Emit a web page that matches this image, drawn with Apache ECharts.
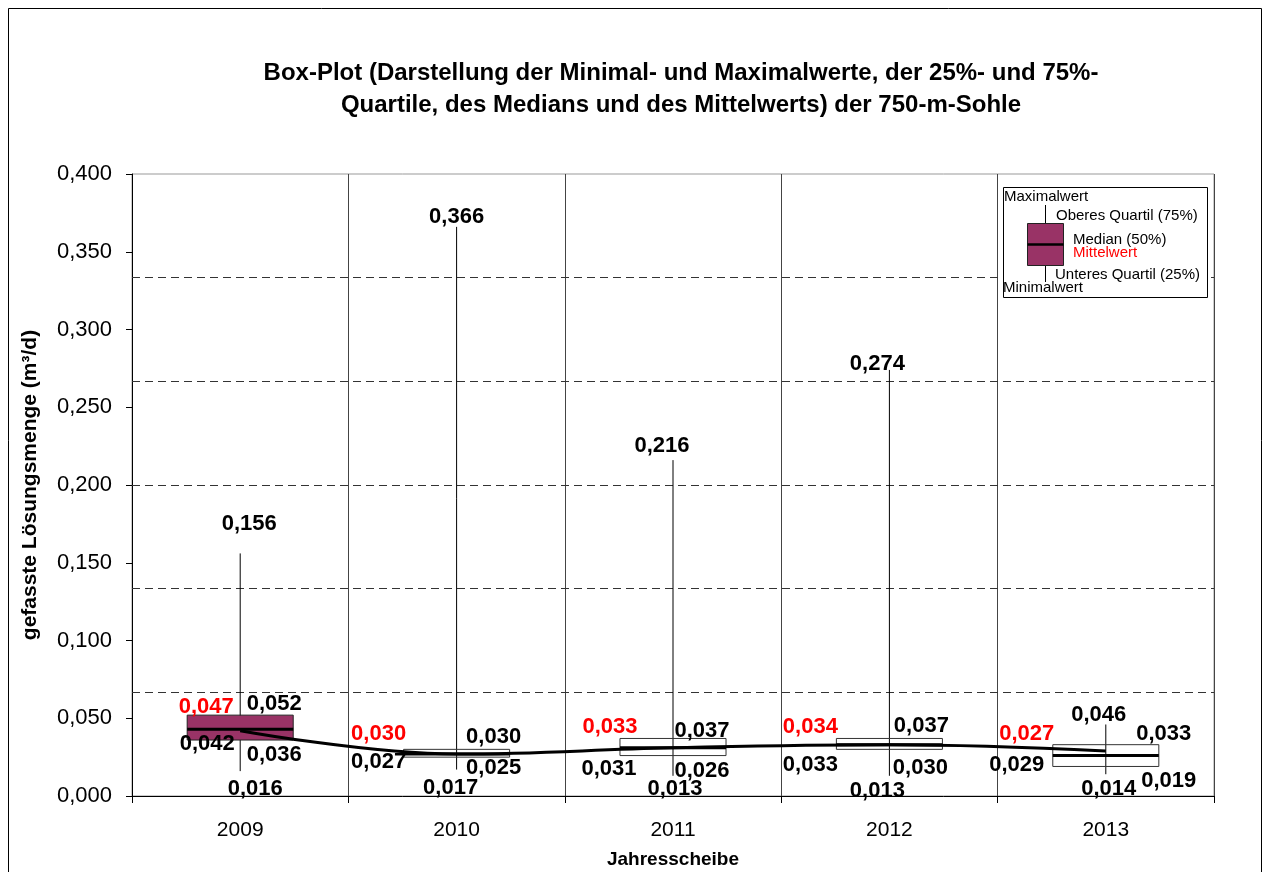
<!DOCTYPE html>
<html>
<head>
    <meta charset="utf-8">
    <title>Box-Plot 750-m-Sohle</title>
    <script src="https://cdn.jsdelivr.net/npm/echarts@6/dist/echarts.min.js"></script>
    <style>
        html, body { margin: 0; padding: 0; background: #fff; }
    </style>
</head>
<body>
<div id="main" style="width: 1270px;height:872px;"></div>
<script type="text/javascript">
    // Daten
    var years = ['2009', '2010', '2011', '2012', '2013'];
    var minVals = [0.016, 0.017, 0.013, 0.013, 0.014];
    var q1Vals = [0.036, 0.025, 0.026, 0.030, 0.019];
    var medianVals = [0.042, 0.027, 0.031, 0.033, 0.029];
    var q3Vals = [0.052, 0.030, 0.037, 0.037, 0.033];
    var maxVals = [0.156, 0.366, 0.216, 0.274, 0.046];
    var meanVals = [0.047, 0.030, 0.033, 0.034, 0.027];
    // dicke Linie im Kasten (wo sie sichtbar vom Median-Verlauf abweicht)
    var boxMidVals = [0.043, 0.027, 0.031, 0.033, 0.026];
    var yTicks = [0, 0.4, 0.05];

    // Lage der Beschriftungen relativ zum Wert [dx, dy] in px
    var labelShift = {
        max:    [[9, -29], [0, -10], [-11, -14], [-12, -6], [-7, -10]],
        q3:     [[34, -11], [37, -12], [29, -8], [32, -13], [58, -11]],
        mean:   [[-34, -16], [-78, -15], [-63, -18], [-79, -16], [-79, -20]],
        median: [[-33, 13], [-78, 8], [-64, 21], [-79, 20], [-89, 14]],
        q1:     [[34, 15], [37, 11], [29, 15], [31, 19], [63, 14]],
        min:    [[15, 18], [-6, 18], [2, 13], [-12, 15], [3, 15]]
    };

    function fmt(v) {
        return v.toFixed(3).replace('.', ',');
    }

    var boxData = years.map(function (y, i) {
        return [i, minVals[i], q1Vals[i], boxMidVals[i], q3Vals[i], maxVals[i]];
    });
    var labelData = years.map(function (y, i) {
        return [i, minVals[i], q1Vals[i], medianVals[i], q3Vals[i], maxVals[i], meanVals[i]];
    });
    // gestrichelte Hilfslinien bei Sechsteln der Achse
    var dashLines = [1, 2, 3, 4, 5].map(function (k) {
        return { yAxis: yTicks[1] * k / 6 };
    });

    var myChart = echarts.init(document.getElementById('main'));

    var fontFam = '"Liberation Sans", Arial, sans-serif';
    var labelFont = 'bold 22px ' + fontFam;
    var legendFont = '15px ' + fontFam;

    function legendText(x, y, text, color) {
        return {
            type: 'text', x: x, y: y, z: 101,
            style: { text: text, font: legendFont, fill: color || '#000', verticalAlign: 'middle', textVerticalAlign: 'middle' }
        };
    }

    option = {
        backgroundColor: '#fff',
        animation: false,
        title: {
            text: 'Box-Plot (Darstellung der Minimal- und Maximalwerte, der 25%- und 75%-\nQuartile, des Medians und des Mittelwerts) der 750-m-Sohle',
            left: 676,
            top: 52,
            textAlign: 'center',
            textStyle: {
                fontFamily: fontFam,
                fontSize: 24,
                fontWeight: 'bold',
                color: '#000',
                lineHeight: 32
            }
        },
        grid: {
            left: 132,
            right: 56,
            top: 174,
            bottom: 76,
            outerBoundsMode: 'none',
            containLabel: false,
            show: true,
            borderColor: '#999',
            borderWidth: 1
        },
        xAxis: {
            type: 'category',
            data: years,
            name: 'Jahresscheibe',
            nameLocation: 'middle',
            nameGap: 54,
            nameTextStyle: {
                fontFamily: fontFam,
                fontSize: 19,
                fontWeight: 'bold',
                color: '#000'
            },
            axisLine: { lineStyle: { color: '#000', width: 1 } },
            axisTick: { show: true, length: 7, interval: 0, lineStyle: { color: '#000' } },
            axisLabel: {
                margin: 24,
                fontFamily: fontFam,
                fontSize: 21,
                color: '#000'
            },
            splitLine: { show: true, interval: 0, lineStyle: { color: '#444', width: 1 } }
        },
        yAxis: {
            type: 'value',
            min: yTicks[0],
            max: yTicks[1],
            interval: yTicks[2],
            name: 'gefasste Lösungsmenge (m³/d)',
            nameLocation: 'middle',
            nameGap: 91,
            nameTextStyle: {
                fontFamily: fontFam,
                fontSize: 21,
                fontWeight: 'bold',
                color: '#000'
            },
            axisLine: { show: true, lineStyle: { color: '#000', width: 1 } },
            axisTick: { show: true, length: 6, lineStyle: { color: '#000' } },
            axisLabel: {
                margin: 20,
                fontFamily: fontFam,
                fontSize: 22,
                color: '#000',
                formatter: fmt
            },
            splitLine: { show: false }
        },
        series: [{
            name: 'Box',
            type: 'custom',
            z: 2,
            encode: { x: 0, y: [1, 2, 3, 4, 5] },
            data: boxData,
            renderItem: function (params, api) {
                var i = api.value(0);
                var pLo = api.coord([i, api.value(1)]);
                var pQ1 = api.coord([i, api.value(2)]);
                var pMid = api.coord([i, api.value(3)]);
                var pQ3 = api.coord([i, api.value(4)]);
                var pHi = api.coord([i, api.value(5)]);
                var w = api.size([1, 0])[0] * 0.49;
                var cx = pQ3[0];
                return {
                    type: 'group',
                    children: [{
                        type: 'line',
                        shape: { x1: pHi[0], y1: pHi[1], x2: pLo[0], y2: pLo[1] },
                        style: { stroke: '#000', lineWidth: 1 }
                    }, {
                        type: 'rect',
                        shape: { x: cx - w / 2, y: pQ3[1], width: w, height: pQ1[1] - pQ3[1] },
                        style: {
                            fill: i === 0 ? '#993366' : 'rgba(255,255,255,0)',
                            stroke: i === 0 ? '#222' : '#333',
                            lineWidth: 1
                        }
                    }, {
                        type: 'line',
                        shape: { x1: cx - w / 2, y1: pMid[1], x2: cx + w / 2, y2: pMid[1] },
                        style: { stroke: '#000', lineWidth: 3 }
                    }]
                };
            }
        }, {
            name: 'Median',
            type: 'line',
            z: 3,
            data: medianVals,
            smooth: 0.4,
            symbol: 'none',
            lineStyle: { color: '#000', width: 3 },
            markLine: {
                silent: true,
                precision: 6,
                symbol: ['none', 'none'],
                label: { show: false },
                z: 1,
                lineStyle: { color: '#333', type: [8, 5], width: 1 },
                data: dashLines
            }
        }, {
            name: 'Beschriftung',
            type: 'custom',
            z: 4,
            clip: false,
            encode: { x: 0, y: [1, 2, 3, 4, 5, 6] },
            data: labelData,
            renderItem: function (params, api) {
                var i = api.value(0);
                var keys = ['min', 'q1', 'median', 'q3', 'max', 'mean'];
                var kids = keys.map(function (k, j) {
                    var v = api.value(j + 1);
                    var p = api.coord([i, v]);
                    var s = labelShift[k][i];
                    return {
                        type: 'text',
                        x: p[0] + s[0],
                        y: p[1] + s[1],
                        style: {
                            text: fmt(v),
                            font: labelFont,
                            fill: k === 'mean' ? '#ff0000' : '#000',
                            align: 'center',
                            verticalAlign: 'middle',
                            textAlign: 'center',
                            textVerticalAlign: 'middle'
                        }
                    };
                });
                return { type: 'group', children: kids };
            }
        }],
        graphic: [{
            type: 'rect',
            shape: { x: 8.5, y: 8.5, width: 1253, height: 900 },
            style: { fill: 'none', stroke: '#000', lineWidth: 1 },
            silent: true,
            z: 0
        }, {
            type: 'rect', z: 100,
            shape: { x: 1003.5, y: 187.5, width: 204, height: 110 },
            style: { fill: '#fff', stroke: '#000', lineWidth: 1 }
        }, {
            type: 'line', z: 101,
            shape: { x1: 1045.5, y1: 205, x2: 1045.5, y2: 282 },
            style: { stroke: '#000', lineWidth: 1 }
        }, {
            type: 'rect', z: 102,
            shape: { x: 1027.5, y: 223.5, width: 36, height: 42 },
            style: { fill: '#993366', stroke: '#222', lineWidth: 1 }
        }, {
            type: 'line', z: 103,
            shape: { x1: 1027.5, y1: 244.5, x2: 1063.5, y2: 244.5 },
            style: { stroke: '#000', lineWidth: 2.5 }
        },
            legendText(1004, 197, 'Maximalwert'),
            legendText(1056, 216, 'Oberes Quartil (75%)'),
            legendText(1073, 240, 'Median (50%)'),
            legendText(1073, 253, 'Mittelwert', '#ff0000'),
            legendText(1055, 275, 'Unteres Quartil (25%)'),
            legendText(1003, 288, 'Minimalwert')
        ]
    };

    myChart.setOption(option);
</script>
</body>
</html>
